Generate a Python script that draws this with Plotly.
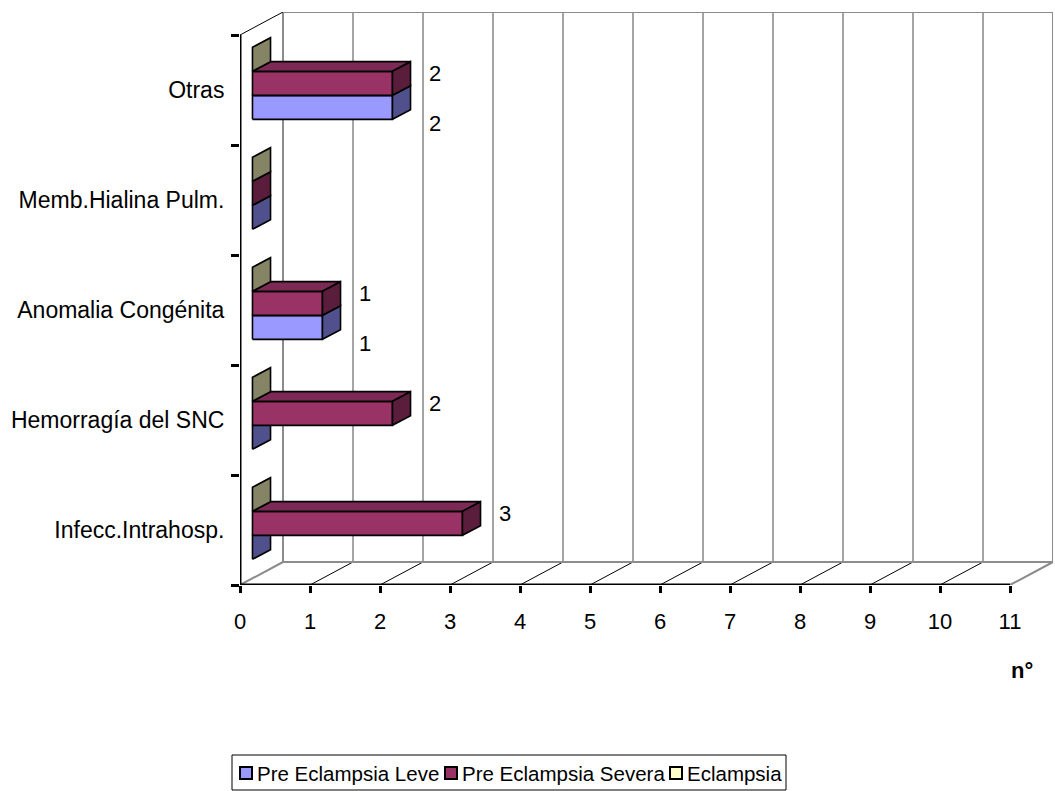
import plotly.graph_objects as go

# ---------------- data ----------------
categories = ["Infecc.Intrahosp.", "Hemorragía del SNC", "Anomalia Congénita",
              "Memb.Hialina Pulm.", "Otras"]
series_names = ["Pre Eclampsia Leve", "Pre Eclampsia Severa", "Eclampsia"]
leve = [0, 0, 1, 0, 2]
severa = [3, 2, 1, 0, 2]
eclampsia = [0, 0, 0, 0, 0]
x_ticks = list(range(0, 12))
x_title = "n°"

# ---------------- style ----------------
FONT = "Liberation Sans, Arial, sans-serif"
front_colors = ["#9999FF", "#993366", "#FFFFCC"]
top_colors = ["#7A7ACC", "#7C2A55", "#CCCCA3"]
side_colors = ["#50508C", "#5A1E3C", "#858566"]
DX = 43 / 70      # depth offset in x units
DY = 23 / 110     # depth offset in category units
D0, D1 = 0.29, 0.71   # bar front/back depth fraction
THICK = 24 / 110      # bar thickness (category units)

W, H = 1055, 791
ML, MR, MT, MB = 240, 2, 12, 206
PW, PH = W - ML - MR, H - MT - MB

all_series = [leve, severa, eclampsia]
ncat = len(categories)
xmax = max(x_ticks)
start = (1 - len(all_series) * THICK) / 2


def px(xpix):
    return (xpix - ML) / PW


def py(ypix):
    return (H - MB - ypix) / PH


def proj(v, c, d):
    return v + d * DX, c + d * DY


def add_poly(xs, ys, pts):
    for p in pts + [pts[0]]:
        x, y = proj(*p)
        xs.append(x)
        ys.append(y)
    xs.append(None)
    ys.append(None)


fig = go.Figure()

# ----- walls / floor / grid -----
wall_gray = "#8C8C8C"
grid_col = "#4A4A4A"


def seg(p, q, color, width):
    x0, y0 = proj(*p)
    x1, y1 = proj(*q)
    fig.add_shape(type="line", x0=x0, y0=y0, x1=x1, y1=y1, xref="x", yref="y",
                  line=dict(color=color, width=width), layer="below")


for k in x_ticks[1:-1]:
    seg((k, 0, 0), (k, 0, 1), "black", 1)
    seg((k, 0, 1), (k, ncat, 1), grid_col, 1)
seg((0, 0, 0), (0, 0, 1), wall_gray, 2)
seg((xmax, 0, 0), (xmax, 0, 1), wall_gray, 2)
seg((0, 0, 1), (xmax, 0, 1), wall_gray, 2)
seg((0, 0, 1), (0, ncat, 1), wall_gray, 2)
seg((0, ncat, 1), (xmax, ncat, 1), wall_gray, 2)
seg((xmax, 0, 1), (xmax, ncat, 1), wall_gray, 2)
seg((0, ncat, 0), (0, ncat, 1), "black", 1)

# ----- bars -----
for s, vals in enumerate(all_series):
    fx, fy, tx, ty, sx, sy = [], [], [], [], [], []
    for i, v in enumerate(vals):
        y0 = i + start + s * THICK
        y1 = y0 + THICK
        if v > 0:
            add_poly(fx, fy, [(0, y0, D0), (v, y0, D0), (v, y1, D0), (0, y1, D0)])
            add_poly(tx, ty, [(0, y1, D0), (v, y1, D0), (v, y1, D1), (0, y1, D1)])
        add_poly(sx, sy, [(v, y0, D0), (v, y0, D1), (v, y1, D1), (v, y1, D0)])
    for xs, ys, col in ((fx, fy, front_colors[s]), (tx, ty, top_colors[s]),
                        (sx, sy, side_colors[s])):
        if xs:
            fig.add_trace(go.Scatter(x=xs, y=ys, mode="lines", fill="toself",
                                     fillcolor=col, line=dict(color="black", width=1.6),
                                     hoverinfo="skip", showlegend=False))

# ----- data labels -----
label_shift = [16, -10, -10]   # pixels, positive = down
for s, vals in enumerate(all_series):
    for i, v in enumerate(vals):
        if v > 0:
            yc = i + start + s * THICK + THICK / 2
            x, _ = proj(v, yc, D1)
            _, yf = proj(v, yc, D0)
            fig.add_annotation(x=x, y=yf, xref="x", yref="y", text=str(v),
                               showarrow=False, xanchor="left", yanchor="middle",
                               xshift=16, yshift=-label_shift[s],
                               font=dict(size=22, color="black", family=FONT))

# ----- axes lines -----
fig.add_shape(type="line", x0=0, y0=0, x1=0, y1=ncat, xref="x", yref="y",
              line=dict(color="black", width=3))
fig.add_shape(type="line", x0=0, y0=0, x1=xmax, y1=0, xref="x", yref="y",
              line=dict(color="black", width=3))

fig.add_annotation(x=px(1022), y=py(671), xref="paper", yref="paper",
                   text="<b>" + x_title + "</b>", showarrow=False,
                   xanchor="center", yanchor="middle",
                   font=dict(size=22, color="black", family=FONT))

# ----- legend (drawn box) -----
fig.add_shape(type="rect", xref="paper", yref="paper",
              x0=px(232), x1=px(786), y0=py(790), y1=py(755),
              line=dict(color="black", width=1), fillcolor="white")
leg_box_x = [240, 445, 670]
for s, name in enumerate(series_names):
    bx = leg_box_x[s]
    fig.add_shape(type="rect", xref="paper", yref="paper",
                  x0=px(bx), x1=px(bx + 12), y0=py(779), y1=py(767),
                  line=dict(color="black", width=2), fillcolor=front_colors[s])
    fig.add_annotation(x=px(bx + 15), y=py(773), xref="paper", yref="paper",
                       text=name, showarrow=False, xanchor="left", yanchor="middle",
                       font=dict(size=20.5, color="black", family=FONT))

fig.update_xaxes(range=[0, xmax + DX], tickvals=x_ticks, ticktext=[str(t) for t in x_ticks],
                 ticks="outside", ticklen=7, tickwidth=3, tickcolor="black",
                 showgrid=False, zeroline=False, showline=False,
                 tickfont=dict(size=22, color="black", family=FONT),
                 ticklabelstandoff=10, fixedrange=True)
fig.update_yaxes(range=[0, ncat + DY], tickvals=[i + 0.5 for i in range(ncat)],
                 ticktext=categories, ticks="outside", ticklen=0, tickcolor="black",
                 minor=dict(ticks="outside", ticklen=8, tickwidth=3, tickcolor="black",
                            tick0=0, dtick=1, showgrid=False),
                 showgrid=False, zeroline=False, showline=False,
                 tickfont=dict(size=23, color="black", family=FONT),
                 ticklabelstandoff=10, fixedrange=True)

fig.update_layout(
    width=W, height=H,
    margin=dict(l=ML, r=MR, t=MT, b=MB, autoexpand=False),
    paper_bgcolor="white", plot_bgcolor="white",
    font=dict(family=FONT, color="black"),
    showlegend=False,
)

fig.write_html("out.html")
